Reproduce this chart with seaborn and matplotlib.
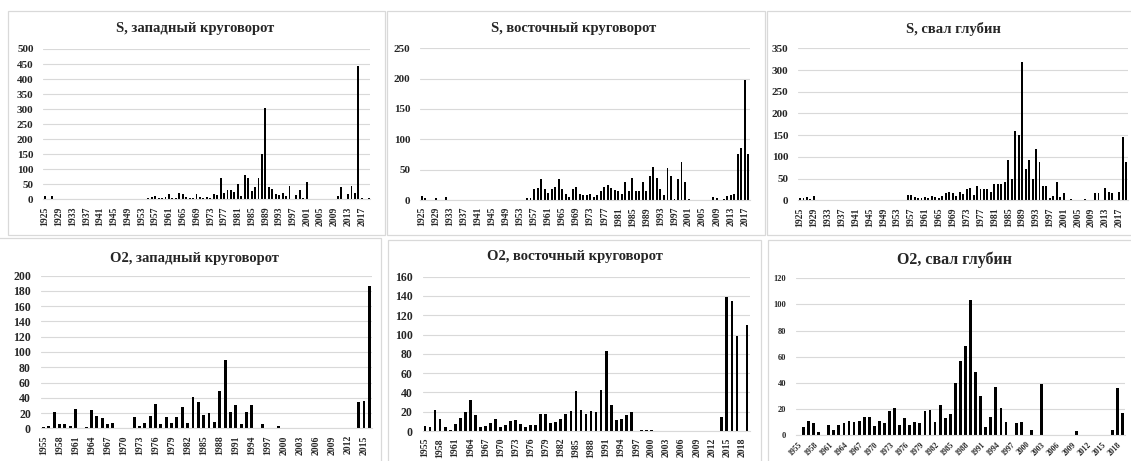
import matplotlib
matplotlib.use("Agg")
import matplotlib.pyplot as plt
from matplotlib.patches import Rectangle
import seaborn as sns
import pandas as pd

# ---------------- data ----------------
years_s_west = list(range(1925, 2020))
s_west = [10, 0, 10,
          0, 0, 0, 0, 0, 0, 0, 0, 0, 0, 0, 0, 0, 0, 0, 0, 0, 0, 0, 0, 0, 0, 0, 0, 0, 0, 0,
          3, 8, 10, 5, 5, 8, 18, 3, 5, 20, 18, 8, 3, 5, 18, 8, 3, 8, 5, 18, 15, 72, 20, 30, 32,
          25, 50, 12, 80, 70, 28, 40, 70, 152, 305, 42, 35, 18, 15, 22, 10, 45, 0, 15, 30, 3, 58,
          0, 0, 0, 0, 0, 0, 0, 0,
          10, 40, 0, 18, 45, 22, 445, 5, 0, 5]

years_s_east = list(range(1925, 2019))
s_east = [7, 4, 0, 0, 3, 0, 0, 5,
          0, 0, 0, 0, 0, 0, 0, 0, 0, 0, 0, 0, 0, 0, 0, 0, 0, 0, 0, 0, 0, 0,
          3, 3, 18, 20, 35, 18, 12, 18, 22, 35, 18, 10, 5, 18, 22, 10, 8, 8, 10, 5, 8, 15, 22, 25,
          20, 17, 15, 10, 30, 15, 36, 15, 15, 30, 15, 40, 54, 37, 18, 8, 52, 40, 2, 35, 62, 30, 2,
          0, 0, 0, 0, 0, 0,
          5, 3, 0, 2, 7, 8, 10, 75, 85, 197, 75]

years_s_slope = list(range(1925, 2020))
s_slope = [5, 5, 7, 4, 9,
           0, 0, 0, 0, 0, 0, 0, 0, 0, 0, 0, 0, 0, 0, 0, 0, 0, 0, 0, 0, 0, 0, 0, 0, 0, 0,
           12, 12, 8, 5, 6, 8, 5, 10, 8, 5, 10, 17, 18, 16, 10, 18, 15, 27, 28, 12, 32, 27, 25,
           25, 20, 38, 37, 38, 42, 93, 50, 160, 150, 318, 72, 93, 50, 118, 88, 32, 32, 5, 10, 42,
           8, 17,
           0, 2, 1, 0, 0, 3, 0, 0, 17, 17, 0, 28, 20, 17, 0, 18, 145, 88]

years_o_west = list(range(1955, 2017))
o_west = [2, 3, 21, 5, 5, 3, 25, 0, 2, 24, 16, 13, 6, 7, 0, 0, 0, 15, 3, 7, 16, 32, 5, 15,
          7, 15, 28, 7, 41, 35, 17, 20, 8, 49, 89, 22, 30, 6, 21, 30, 0, 5, 0, 0, 3,
          0, 0, 0, 0, 0, 0, 0, 0, 0, 0, 0, 0, 0, 0,
          34, 36, 186]

years_o_east = list(range(1955, 2020))
o_east = [5, 4, 22, 12, 4, 1, 7, 13, 20, 32, 17, 4, 5, 8, 12, 4, 6, 10, 11, 7, 4, 6, 6, 18,
          18, 8, 9, 12, 18, 21, 41, 22, 18, 21, 20, 42, 83, 27, 11, 12, 17, 20, 0, 1, 1, 1,
          0, 0, 0, 0, 0, 0, 0, 0, 0, 0, 0, 0, 0,
          15, 139, 135, 98, 0, 110]

years_o_slope = list(range(1955, 2020))
o_slope = [0, 6, 11, 9, 2, 0, 8, 4, 8, 9, 11, 10, 11, 14, 14, 7, 11, 9, 18, 21, 8, 13, 8, 10,
           9, 18, 19, 10, 23, 13, 16, 40, 57, 68, 103, 48, 30, 6, 14, 37, 21, 10, 0, 9, 10, 0,
           4, 0, 39,
           0, 0, 0, 0, 0, 0, 3, 0, 0, 0, 0, 0, 0,
           4, 36, 17]

titles = ["S, западный круговорот", "S, восточный круговорот", "S, свал глубин",
          "O2, западный круговорот", "O2, восточный круговорот", "O2, свал глубин"]

# ---------------- style ----------------
sns.set_style("white")
plt.rcParams["font.family"] = ["Liberation Serif", "DejaVu Serif"]
plt.rcParams["font.weight"] = "bold"

W, H = 1131, 461
fig = plt.figure(figsize=(W / 100, H / 100), dpi=100)
fig.patch.set_facecolor("white")

GRID = "#d9d9d9"


def add_box(x0, y0, x1, y1):
    fig.patches.append(Rectangle((x0 / W, 1 - y1 / H), (x1 - x0) / W, (y1 - y0) / H,
                                 transform=fig.transFigure, fill=False,
                                 edgecolor=GRID, linewidth=0.9, zorder=0))


def panel(years, values, area, title, title_xy, title_fs, ymax, ystep, every,
          rot, ylab_fs, xlab_fs):
    x0, y0, x1, y1 = area
    ax = fig.add_axes([x0 / W, 1 - y1 / H, (x1 - x0) / W, (y1 - y0) / H])
    labels = [str(y) for y in years]
    df = pd.DataFrame({"year": labels, "value": values})
    sns.barplot(data=df, x="year", y="value", order=labels, color="black",
                saturation=1, width=0.55, linewidth=0, ax=ax)
    ax.set_xlim(-0.5, len(years) - 0.5)
    ax.set_ylim(0, ymax)
    ax.set_yticks(range(0, ymax + 1, ystep))
    ax.tick_params(axis="y", length=0, pad=7, labelsize=ylab_fs)
    idx = list(range(0, len(years), every))
    ax.set_xticks(idx)
    if rot == 90:
        ax.set_xticklabels([labels[i] for i in idx], rotation=90, fontsize=xlab_fs,
                           fontweight="bold")
        ax.tick_params(axis="x", length=0, pad=5)
    else:
        ax.set_xticklabels([labels[i] for i in idx], rotation=rot, fontsize=xlab_fs,
                           fontweight="bold", ha="right", rotation_mode="anchor")
        ax.tick_params(axis="x", length=0, pad=4)
    for t in ax.get_yticklabels():
        t.set_fontweight("bold")
    ax.set_xlabel("")
    ax.set_ylabel("")
    ax.yaxis.grid(True, color=GRID, linewidth=0.8)
    ax.xaxis.grid(False)
    ax.set_axisbelow(True)
    for s in ["left", "right", "top"]:
        ax.spines[s].set_visible(False)
    ax.spines["bottom"].set_color(GRID)
    ax.spines["bottom"].set_linewidth(0.8)
    ax.set_facecolor("none")
    fig.text(title_xy[0] / W, 1 - title_xy[1] / H, title, ha="center", va="center",
             fontsize=title_fs, fontweight="bold")
    return ax


# chart-area borders
add_box(8, 11, 385, 235)
add_box(387, 11, 765, 235)
add_box(767, 11, 1140, 235)
add_box(-10, 238, 381, 470)
add_box(388, 240, 761, 470)
add_box(768, 240, 1140, 470)

panel(years_s_west, s_west, (43.3, 49, 370.4, 199.3), titles[0], (195, 28.5), 10.5,
      500, 50, 4, 90, 8, 7)
panel(years_s_east, s_east, (419.9, 48.3, 750, 200), titles[1], (574, 28.5), 10.5,
      250, 50, 4, 90, 8, 7)
panel(years_s_slope, s_slope, (798.3, 48.3, 1128, 200.3), titles[2], (953, 29.5), 10.5,
      350, 50, 4, 90, 8, 7)
panel(years_o_west, o_west, (40.7, 275.7, 372, 428.3), titles[3], (194.5, 258.3), 10.5,
      200, 20, 3, 90, 8.5, 7)
panel(years_o_east, o_east, (422.5, 276.7, 749.5, 431), titles[4], (574.5, 256.7), 10.5,
      160, 20, 3, 90, 8.5, 7)
panel(years_o_slope, o_slope, (795.8, 278.3, 1125, 435), titles[5], (954, 260), 11.5,
      120, 20, 3, 45, 6, 5.5)

fig.savefig("out.png", dpi=100, facecolor="white")
